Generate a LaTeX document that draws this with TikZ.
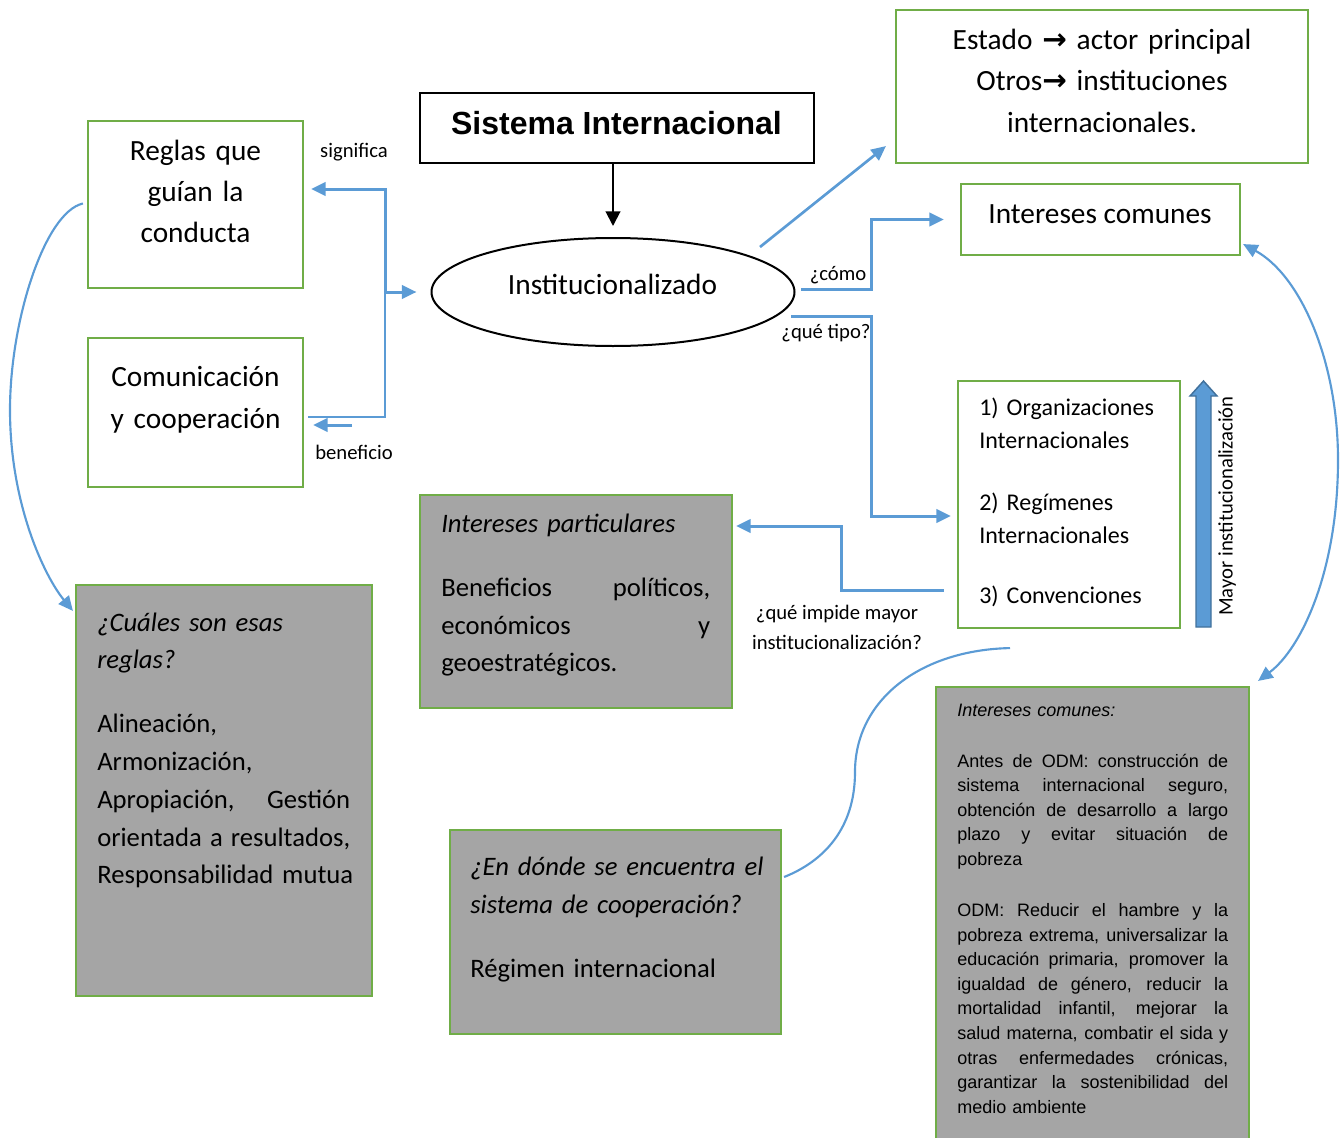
\documentclass[tikz,border=0pt]{standalone}
\usepackage{fontspec}
\setmainfont{Carlito}
\newfontfamily\arialfont{Liberation Sans}
\newfontfamily\symfont{DejaVu Sans}
\usetikzlibrary{arrows.meta,calc,shapes.geometric}
\definecolor{leaf}{HTML}{70AD47}
\definecolor{sky}{HTML}{5B9BD5}
\definecolor{skydark}{HTML}{41719C}
\definecolor{panel}{HTML}{A5A5A5}
% a line stretched to the full text width (justified line)
\newcommand\jrow[1]{\makebox[\hsize][s]{\spaceskip=\fontdimen2\font plus 1fil\relax #1}}
\newcommand\rarrow{{\symfont\bfseries →}}
\tikzset{
  wh/.style 2 args={minimum width=#1, minimum height=#2},
  gbox/.style={draw=leaf, line width=1.6pt, inner sep=0pt, rectangle},
  gpanel/.style={gbox, fill=panel},
  bbox/.style={draw=black, line width=1.5pt, inner sep=0pt},
  txt/.style={inner sep=0pt},
  lab/.style={inner sep=0pt, font=\fontsize{15.5}{18}\selectfont},
  link/.style={draw=sky, line width=2.25pt},
  thinlink/.style={draw=sky, line width=1.1pt},
  curve/.style={draw=sky, line width=1.6pt},
  tip/.style={-{Triangle[length=11pt,width=10pt]}},
  tips/.style={{Triangle[length=11pt,width=10pt]}-{Triangle[length=11pt,width=10pt]}},
}
\begin{document}
\begin{tikzpicture}[x=0.75pt,y=-0.75pt]
\useasboundingbox (0,0) rectangle (1342,1138);

% ---- boxes ----
\node[bbox, wh={295.5pt}{52.5pt}] (sis) at (617,128) {};
\node[bbox, ellipse, wh={272.25pt}{81pt}] (ell) at (613,292) {};
\node[gbox, wh={161.25pt}{125.25pt}] (reg) at (195.5,204.5) {};
\node[gbox, wh={161.25pt}{111.75pt}] (com) at (195.5,412.5) {};
\node[gbox, wh={309pt}{114.75pt}] (est) at (1102,86.5) {};
\node[gbox, wh={209.25pt}{53.25pt}] (intc) at (1100.5,219.5) {};
\node[gbox, wh={166.5pt}{185.25pt}] (org) at (1069,504.5) {};
\node[gpanel, wh={234pt}{159.75pt}] (ipart) at (576,601.5) {};
\node[gpanel, wh={222pt}{308.25pt}] (cual) at (224,790.5) {};
\node[gpanel, wh={248.25pt}{153pt}] (dond) at (615.5,932) {};
\node[gpanel, wh={234.75pt}{347.25pt}] (odm) at (1092.5,918.5) {};

% ---- texts ----
\node[txt, font=\arialfont\bfseries\fontsize{24}{28}\selectfont] (sist) at (616.5,123) {Sistema Internacional};
\node[txt, font=\fontsize{22}{26}\selectfont] (ellt) at (612.5,284) {Institucionalizado};
\node[txt, anchor=base, text width=150pt, align=center, font=\fontsize{22}{30.75}\selectfont] (regt) at (195.5,160) {Reglas que\\guían la\\conducta};
\node[txt, anchor=base, text width=150pt, align=center, font=\fontsize{22}{31.5}\selectfont] (comt) at (195.5,386) {Comunicación\\y cooperación};
\node[txt, anchor=base, text width=300pt, align=center, font=\fontsize{22}{31.1}\selectfont] (estt) at (1102,49.5) {Estado \rarrow{} actor principal\\Otros\rarrow{} instituciones\\internacionales.};
\node[txt, font=\fontsize{22}{26}\selectfont] (intct) at (1100,214) {Intereses comunes};
\node[txt, anchor=base west, text width=146.25pt, align=left, font=\fontsize{18}{24.75}\selectfont] (orgt) at (979,415)
  {1) Organizaciones\\Internacionales\\[21.75pt]2) Regímenes\\Internacionales\\[20.25pt]3) Convenciones};
\node[txt, anchor=base west, text width=201.75pt, align=left, font=\fontsize{20}{28.1}\selectfont] (ipartt) at (441,532)
  {\textit{Intereses particulares}\\[20.6pt]\jrow{Beneficios políticos,}\\\jrow{económicos y}\\geoestratégicos.};
\node[txt, anchor=base west, text width=189.75pt, align=left, font=\fontsize{20}{28.3}\selectfont] (cualt) at (97,631)
  {\textit{¿Cuáles son esas}\\\textit{reglas?}\\[19.75pt]Alineación,\\Armonización,\\\jrow{Apropiación, Gestión}\\\jrow{orientada a resultados,}\\\mbox{Responsabilidad mutua}};
\node[txt, anchor=base west, text width=225pt, align=left, font=\fontsize{20}{28.5}\selectfont] (dondt) at (470,875)
  {\textit{¿En dónde se encuentra el}\\\textit{sistema de cooperación?}\\[19.5pt]Régimen internacional};
\node[txt, anchor=base west, text width=203.25pt, align=left, font=\arialfont\fontsize{13.5}{18.45}\selectfont] (odmt) at (957,716)
  {\textit{Intereses comunes:}\\[19.8pt]
   \jrow{Antes de ODM: construcción de}\\
   \jrow{sistema internacional seguro,}\\
   \jrow{obtención de desarrollo a largo}\\
   \jrow{plazo y evitar situación de}\\
   pobreza\\[19.8pt]
   \jrow{ODM: Reducir el hambre y la}\\
   \jrow{pobreza extrema, universalizar la}\\
   \jrow{educación primaria, promover la}\\
   \jrow{igualdad de género, reducir la}\\
   \jrow{mortalidad infantil, mejorar la}\\
   \jrow{salud materna, combatir el sida y}\\
   \jrow{otras enfermedades crónicas,}\\
   \jrow{garantizar la sostenibilidad del}\\
   medio ambiente};

% ---- connector labels ----
\node[lab] (l1) at (354,152) {significa};
\node[lab] (l2) at (354,452) {beneficio};
\node[lab] (l3) at (838,275) {¿cómo};
\node[lab] (l4) at (826,333) {¿qué tipo?};
\node[lab, align=center, font=\fontsize{15.5}{22.5}\selectfont] (l5) at (837,627) {¿qué impide mayor\\institucionalización?};

% ---- big upward arrow ----
\draw[fill=sky, draw=skydark, line width=1.1pt]
  (1196,627) -- (1196,396) -- (1190,396) -- (1203.5,381) -- (1217,396) -- (1211,396) -- (1211,627) -- cycle;
\node[txt, rotate=90, font=\fontsize{15.5}{18}\selectfont] (rot) at (1227,506) {Mayor institucionalización};

% ---- connectors ----
\draw[black, line width=1.5pt, -{Triangle[length=11pt,width=11pt]}, shorten >=8.25pt]
  (sis.south -| ell.north) -- (ell.north);

\coordinate (jn) at (385,292);
\draw[link, tips] ($(reg.east)+(7,-15.5)$) -| (jn) -- ($(ell.west)+(-14,0)$);
\draw[thinlink] (jn) |- ($(com.east)+(4,4.5)$);
\coordinate (bn) at (352,425);
\draw[link, tip] (bn) -- ($(com.east |- bn)+(9,0)$);

\coordinate (es) at (760,247);
\draw[link, line width=2pt, tip] (es) -- ($(est.south west)+(-9,-18)$);

\draw[link, tip] ($(ell.east)+(5.5,-3)$) -| ($(intc.west)+(-88,0)$) -- ($(intc.west)+(-16,0)$);
\draw[link, tip] ($(ell.east)+(-4.5,24)$) -| ($(org.west)+(-85,11.5)$) -- ($(org.west)+(-6,11.5)$);
\draw[link, tip] ($(org.west)+(-13,85.5)$) -| ($(ipart.east)+(108,-75.5)$) -- ($(ipart.east)+(3,-75.5)$);

\draw[curve, tip] ($(reg.west)+(-4,-1)$) .. controls (45,212) and (10,320) .. (10,410)
  .. controls (10,505) and (45,577) .. ($(cual.north west)+(-2,27)$);
\draw[curve] ($(org.south)+(-59,19)$) .. controls (920,650) and (855,700) .. (855,772)
  .. controls (855,830) and (822,862) .. ($(dond.east)+(2,-55)$);
\draw[curve, tips] ($(intc.south east)+(2,-12)$) .. controls (1300,275) and (1338,360) .. (1338,460)
  .. controls (1338,570) and (1302,648) .. ($(odm.north east)+(8,-5)$);
\end{tikzpicture}
\end{document}
